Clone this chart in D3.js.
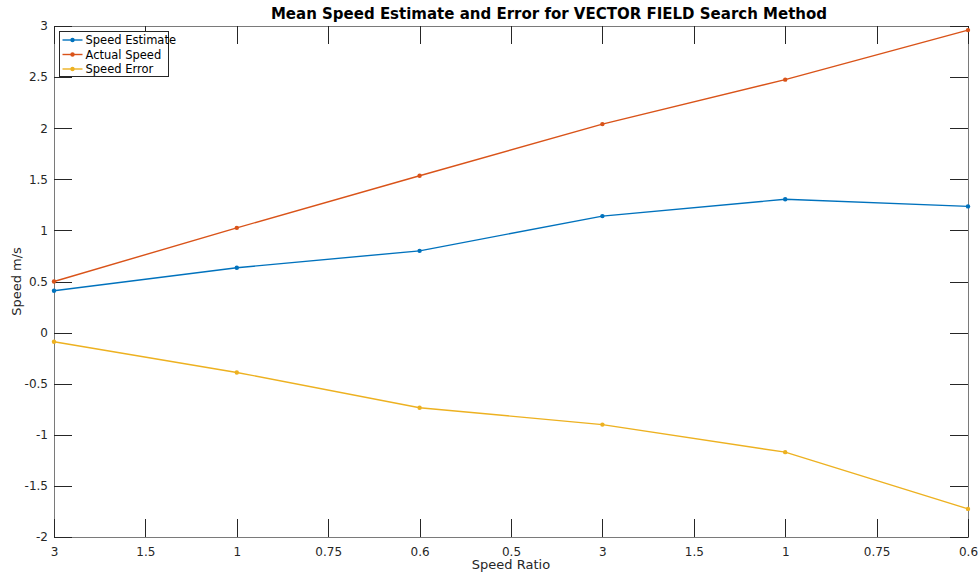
<!DOCTYPE html>
<html>
<head>
<meta charset="utf-8">
<script src="https://cdn.jsdelivr.net/npm/d3@7"></script>
<style>
  html, body { margin: 0; padding: 0; background: #fff; }
  svg { display: block; font-family: "DejaVu Sans", sans-serif; }
</style>
</head>
<body>
<svg id="chart" width="980" height="580"></svg>
<script>
// Tick labels along the x axis (speed ratios, two sweeps)
const xTickLabels = ["3", "1.5", "1", "0.75", "0.6", "0.5", "3", "1.5", "1", "0.75", "0.6"];
// Tick positions (1-based) where measurements were taken
const sampleIndex = [1, 3, 5, 7, 9, 11];
// Series values in m/s
const speedEstimate = [0.41, 0.635, 0.80, 1.14, 1.305, 1.235];
const actualSpeed   = [0.50, 1.025, 1.535, 2.04, 2.475, 2.96];
const speedError    = [-0.09, -0.39, -0.735, -0.90, -1.17, -1.725];
const yTicks = [-2, -1.5, -1, -0.5, 0, 0.5, 1, 1.5, 2, 2.5, 3];

const seriesList = [
  { name: "Speed Estimate", values: speedEstimate, color: "#0072BD" },
  { name: "Actual Speed",   values: actualSpeed,   color: "#D95319" },
  { name: "Speed Error",    values: speedError,    color: "#EDB120" }
];

const svg = d3.select("#chart");
const plotL = 54, plotR = 968, plotT = 26, plotB = 537;

const x = d3.scaleLinear().domain([1, 11]).range([plotL, plotR]);
const y = d3.scaleLinear().domain([-2, 3]).range([plotB, plotT]);

const tickColor = "#262626";
const boxColor = "#7a7a7a";
const tickLen = 18;

// Axes box
svg.append("rect")
  .attr("x", plotL + 0.5).attr("y", plotT + 0.5)
  .attr("width", plotR - plotL).attr("height", plotB - plotT)
  .attr("fill", "none").attr("stroke", boxColor).attr("stroke-width", 1);

// Bottom axis labels
const xIdx = d3.range(1, 12);
const gx = svg.append("g").attr("transform", `translate(0,${plotB})`)
  .call(d3.axisBottom(x).tickValues(xIdx).tickSize(0).tickPadding(10)
    .tickFormat(i => xTickLabels[i - 1]));
gx.select(".domain").remove();
gx.selectAll("text").attr("font-size", 12).attr("fill", tickColor)
  .attr("font-family", "DejaVu Sans, sans-serif");

// Left axis labels
const gy = svg.append("g").attr("transform", `translate(${plotL},0)`)
  .call(d3.axisLeft(y).tickValues(yTicks).tickSize(0).tickPadding(6)
    .tickFormat(d => String(d)));
gy.select(".domain").remove();
gy.selectAll("text").attr("font-size", 12).attr("fill", tickColor)
  .attr("font-family", "DejaVu Sans, sans-serif");

// Inward tick marks on all four sides
const ticks = svg.append("g").attr("stroke", tickColor).attr("stroke-width", 1);
xIdx.forEach(i => {
  const px = Math.round(x(i)) + 0.5;
  ticks.append("line").attr("x1", px).attr("x2", px).attr("y1", plotB).attr("y2", plotB - tickLen);
  ticks.append("line").attr("x1", px).attr("x2", px).attr("y1", plotT).attr("y2", plotT + tickLen);
});
yTicks.forEach(v => {
  const py = Math.round(y(v)) + 0.5;
  ticks.append("line").attr("x1", plotL).attr("x2", plotL + tickLen).attr("y1", py).attr("y2", py);
  ticks.append("line").attr("x1", plotR).attr("x2", plotR - tickLen).attr("y1", py).attr("y2", py);
});

// Series lines and dot markers
const line = d3.line().x((d, i) => x(sampleIndex[i])).y(d => y(d));
seriesList.forEach(s => {
  svg.append("path").datum(s.values)
    .attr("d", line).attr("fill", "none")
    .attr("stroke", s.color).attr("stroke-width", 1.4);
  svg.append("g").selectAll("circle").data(s.values).join("circle")
    .attr("cx", (d, i) => x(sampleIndex[i])).attr("cy", d => y(d))
    .attr("r", 2.2).attr("fill", s.color);
});

// Title and axis labels
svg.append("text").attr("x", 549).attr("y", 18.5)
  .attr("text-anchor", "middle").attr("font-size", 15).attr("font-weight", "bold")
  .attr("fill", "#000").text("Mean Speed Estimate and Error for VECTOR FIELD Search Method");
svg.append("text").attr("x", (plotL + plotR) / 2).attr("y", 569)
  .attr("text-anchor", "middle").attr("font-size", 13).attr("fill", tickColor)
  .text("Speed Ratio");
svg.append("text").attr("transform", `translate(21,${(plotT + plotB) / 2}) rotate(-90)`)
  .attr("text-anchor", "middle").attr("font-size", 13).attr("fill", tickColor)
  .text("Speed m/s");

// Legend
const lg = svg.append("g").attr("transform", "translate(59.5,31.5)");
lg.append("rect").attr("width", 109).attr("height", 45)
  .attr("fill", "#fff").attr("stroke", "#262626").attr("stroke-width", 1);
seriesList.forEach((s, i) => {
  const ly = 8.5 + i * 14.5;
  lg.append("line").attr("x1", 3).attr("x2", 23).attr("y1", ly).attr("y2", ly)
    .attr("stroke", s.color).attr("stroke-width", 1.4);
  lg.append("circle").attr("cx", 13).attr("cy", ly).attr("r", 2.2).attr("fill", s.color);
  lg.append("text").attr("x", 26).attr("y", ly + 4).attr("font-size", 11.5)
    .attr("fill", "#000").text(s.name);
});
</script>
</body>
</html>
